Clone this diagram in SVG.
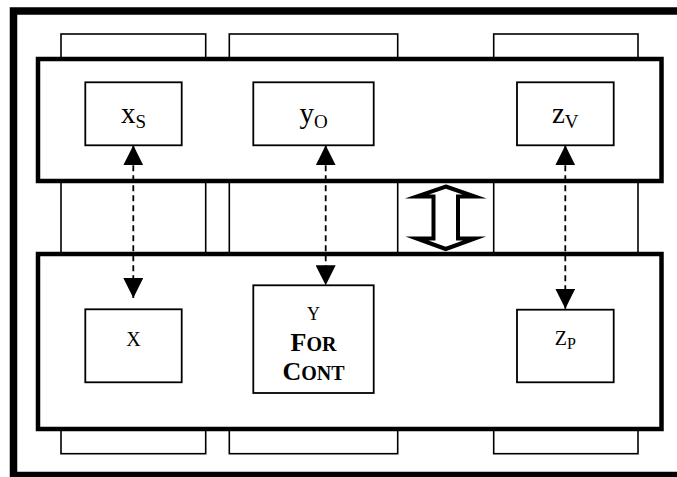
<svg xmlns="http://www.w3.org/2000/svg" width="677" height="477" viewBox="0 0 677 477">
<style>
.frame{fill:none;stroke:#000;stroke-width:7.5}
.tab{fill:#fff;stroke:#000;stroke-width:1.6}
.big{fill:#fff;stroke:#000;stroke-width:4.5}
.box{fill:#fff;stroke:#000;stroke-width:1.8}
.lbl{font-family:"Liberation Serif","Times New Roman",serif;fill:#000;text-anchor:middle}
.bold{font-weight:bold}
.dash{fill:none;stroke:#000;stroke-width:1.8;stroke-dasharray:6,4}
.dbl{fill:#fff;stroke:#000;stroke-width:4;stroke-miterlimit:10}
</style>
<defs>
<marker id="ah" viewBox="0 0 20 20" refX="20" refY="10" markerWidth="20" markerHeight="20" markerUnits="userSpaceOnUse" orient="auto-start-reverse">
<path d="M0,0 L20,10 L0,20 z" fill="#000"/>
</marker>
</defs>
<rect width="677" height="477" fill="#fff"/>
<rect class="frame" x="13.5" y="11" width="700" height="464.5"/>
<g id="columns">
<rect class="tab" x="61" y="34" width="144.7" height="419.7"/>
<rect class="tab" x="229.3" y="34" width="168.4" height="419.7"/>
<rect class="tab" x="493.7" y="34" width="144.3" height="419.7"/>
</g>
<g id="top-layer">
<rect class="big" x="38" y="59" width="623.5" height="122"/>
</g>
<g id="bottom-layer">
<rect class="big" x="38" y="254" width="623.5" height="175"/>
</g>
<g id="node-xs">
<rect class="box" x="85.3" y="82.3" width="96.4" height="63"/>
<text class="lbl" x="133.5" y="123"><tspan font-size="29">x</tspan><tspan font-size="19" dy="4.5">S</tspan></text>
</g>
<g id="node-yo">
<rect class="box" x="253.3" y="82.3" width="120.4" height="63"/>
<text class="lbl" x="313.5" y="123"><tspan font-size="29">y</tspan><tspan font-size="19" dy="4.5">O</tspan></text>
</g>
<g id="node-zv">
<rect class="box" x="517" y="82.3" width="96.7" height="63"/>
<text class="lbl" x="565.3" y="123"><tspan font-size="29">z</tspan><tspan font-size="19" dy="4.5">V</tspan></text>
</g>
<g id="node-x">
<rect class="box" x="85.3" y="309.3" width="96.4" height="73"/>
<text class="lbl" x="133.5" y="346" font-size="20">X</text>
</g>
<g id="node-y">
<rect class="box" x="253.3" y="285.3" width="120.4" height="107.7"/>
<text class="lbl" x="313.5" y="320" font-size="18">Y</text>
<text class="lbl bold" x="313.5" y="351"><tspan font-size="26">F</tspan><tspan font-size="20">OR</tspan></text>
<text class="lbl bold" x="313.5" y="380"><tspan font-size="26">C</tspan><tspan font-size="20">ONT</tspan></text>
</g>
<g id="node-zp">
<rect class="box" x="517" y="309.7" width="96.7" height="72.6"/>
<text class="lbl" x="565.3" y="345"><tspan font-size="20">Z</tspan><tspan font-size="16" dy="3.5">P</tspan></text>
</g>
<g id="connectors">
<line class="dash" x1="133.3" y1="145.3" x2="133.3" y2="298" marker-start="url(#ah)" marker-end="url(#ah)"/>
<line class="dash" x1="325.7" y1="145.3" x2="325.7" y2="285.3" marker-start="url(#ah)" marker-end="url(#ah)"/>
<line class="dash" x1="565.3" y1="145.3" x2="565.3" y2="308.7" marker-start="url(#ah)" marker-end="url(#ah)"/>
<polygon class="dbl" points="445.75,186.5 474.75,196.5 458,196.5 458,238.5 474.75,238.5 445.75,249 416.75,238.5 433.5,238.5 433.5,196.5 416.75,196.5"/>
</g>
</svg>
